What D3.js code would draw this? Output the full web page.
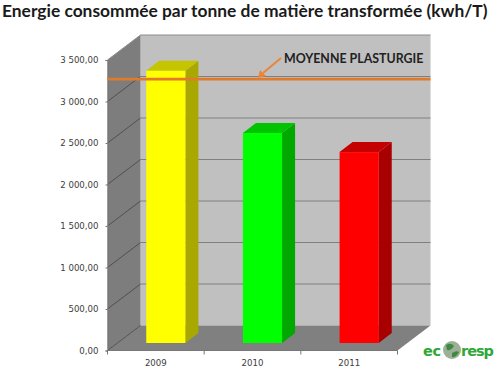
<!DOCTYPE html>
<html>
<head>
	<meta charset="utf-8">
	<title>Energie consommée</title>
	<script src="https://cdn.jsdelivr.net/npm/d3@7"></script>
</head>
<body style="margin:0;background-color:#fff;">
<script type="text/javascript">
	var years = ["2009", "2010", "2011"];
	var energy = [3280, 2530, 2300];
	var barColors = ["#ffff00", "#00ff00", "#ff0000"];
	var sideColors = ["#a8a800", "#00a800", "#a80000"];
	var topColors = ["#c4c400", "#00c400", "#c40000"];
	var yTicks = [0, 500, 1000, 1500, 2000, 2500, 3000, 3500];
	var tickLabels = ["0,00", "500,00", "1 000,00", "1 500,00", "2 000,00", "2 500,00", "3 000,00", "3 500,00"];
	var moyenne = [3270];

	var width = 500, height = 373;
	var svg = d3.select("body").append("svg").attr("width", width).attr("height", height).style("display", "block");

	var x = d3.scaleBand().domain(years).range([107.5, 397.5]);
	var y = d3.scaleLinear().domain([0, 3500]).range([350.5, 60]);

	// depth of the 3d box and of the bars
	var depthX = 33, depthY = -25;
	var barOffX = 10, barOffY = -7.5, barDepthX = 13, barDepthY = -10;
	var barW = x.bandwidth() * 0.405;

	function poly(points, fill) {
		return svg.append("polygon").attr("points", points.map(function(p){return p.join(",")}).join(" ")).attr("fill", fill);
	}

	var x0 = x.range()[0], x1 = x.range()[1];
	var yb = y(0), yt = y(3500);

	// back wall, side wall, floor
	poly([[x0+depthX, yt+depthY], [x1+depthX, yt+depthY], [x1+depthX, yb+depthY], [x0+depthX, yb+depthY]], "#c0c0c0");
	poly([[x0, yt], [x0+depthX, yt+depthY], [x0+depthX, yb+depthY], [x0, yb]], "#7d7d7d");
	poly([[x0, yb], [x0+depthX, yb+depthY], [x1+depthX, yb+depthY], [x1, yb]], "#808080");
	svg.append("path").attr("d", "M"+x0+","+yt+"L"+(x0+depthX)+","+(yt+depthY)+"L"+(x1+depthX)+","+(yt+depthY))
		.attr("fill", "none").attr("stroke", "#8c8c8c").attr("stroke-width", 1);

	// grid lines, side wall part then back wall part
	svg.append("g").selectAll("line").data(yTicks.slice(0, -1))
		.enter().append("line")
		.attr("x1", x0).attr("y1", function(d){return y(d)})
		.attr("x2", x0+depthX).attr("y2", function(d){return y(d)+depthY})
		.attr("stroke", "#505050").attr("stroke-width", 1);
	svg.append("g").selectAll("line").data(yTicks.slice(1, -1))
		.enter().append("line")
		.attr("x1", x0+depthX).attr("y1", function(d){return y(d)+depthY})
		.attr("x2", x1+depthX).attr("y2", function(d){return y(d)+depthY})
		.attr("stroke", "#808080").attr("stroke-width", 1);

	// axes, the tick labels are the french ones
	var yAxis = d3.axisLeft(y).tickValues(yTicks).tickSize(2).tickPadding(7).tickFormat(function(d,i){return tickLabels[i]});
	var yG = svg.append("g").attr("transform", "translate("+x0+",0)").call(yAxis);
	var xAxis = d3.axisBottom(x).tickSize(0).tickPadding(9);
	var xG = svg.append("g").attr("transform", "translate(0,"+yb+")").call(xAxis);
	xG.selectAll("path.domain").remove();
	xG.selectAll(".tk").data(d3.range(4)).enter().append("line").attr("class", "tk")
		.attr("x1", function(d){return x0 + d*x.step()}).attr("x2", function(d){return x0 + d*x.step()})
		.attr("y1", 0).attr("y2", 4).attr("stroke", "#777");
	xG.append("line").attr("x1", x0).attr("x2", x1).attr("stroke", "#777");
	yG.select("path.domain").attr("stroke", "#777");
	yG.selectAll("line").attr("stroke", "#777");
	[yG, xG].forEach(function(g){
		g.selectAll("text").attr("font-family", "DejaVu Sans, sans-serif").attr("font-size", 8.6).attr("fill", "#3c3c3c");
	});

	// bars, each with front, side and top faces
	var bars = svg.append("g").selectAll("g").data(years).enter().append("g");
	function barLeft(d){return x(d) + (x.bandwidth()-barW)/2 + barOffX}
	bars.append("polygon").attr("fill", function(d,i){return sideColors[i]})
		.attr("points", function(d,i){
			var l = barLeft(d)+barW, t = y(energy[i])+barOffY, b = yb+barOffY;
			return [[l,t],[l+barDepthX,t+barDepthY],[l+barDepthX,b+barDepthY],[l,b]].join(" ");
		});
	bars.append("polygon").attr("fill", function(d,i){return topColors[i]})
		.attr("points", function(d,i){
			var l = barLeft(d), t = y(energy[i])+barOffY;
			return [[l,t],[l+barDepthX,t+barDepthY],[l+barW+barDepthX,t+barDepthY],[l+barW,t]].join(" ");
		});
	bars.append("rect").attr("fill", function(d,i){return barColors[i]})
		.attr("x", barLeft).attr("width", barW)
		.attr("y", function(d,i){return y(energy[i])+barOffY})
		.attr("height", function(d,i){return yb-y(energy[i])});

	// average line and its note
	svg.append("line").attr("x1", x0).attr("x2", x1+depthX).attr("y1", y(moyenne[0])).attr("y2", y(moyenne[0]))
		.attr("stroke", "#e07b2c").attr("stroke-width", 2.6);
	svg.append("line").attr("x1", 281).attr("y1", 58).attr("x2", 263).attr("y2", 73)
		.attr("stroke", "#e8853a").attr("stroke-width", 2);
	svg.append("polygon").attr("points", "258,78 260,70 266,76").attr("fill", "#e8853a");
	svg.append("text").attr("x", 284).attr("y", 63).attr("font-family", "Lato").attr("font-weight", 700)
		.attr("font-size", 12.4).attr("fill", "#222").text("MOYENNE PLASTURGIE");

	svg.append("text").attr("x", 2).attr("y", 17).attr("font-family", "Lato").attr("font-weight", 700)
		.attr("font-size", 17.4).attr("fill", "#1a1a1a").text("Energie consommée par tonne de matière transformée (kwh/T)");

	// logo
	var logo = svg.append("g").attr("font-family", "DejaVu Sans").attr("font-weight", 700).attr("font-size", 14.5).attr("fill", "#2fa838");
	logo.append("text").attr("x", 423).attr("y", 356).attr("textLength", 18).text("ec");
	logo.append("text").attr("x", 461).attr("y", 356).attr("textLength", 33).text("resp");
	svg.append("circle").attr("cx", 452).attr("cy", 350).attr("r", 9).attr("fill", "#9db097");
	svg.append("path").attr("d", "M446,345 Q451,342 454,346 Q451,351 447,350Z M452,353 Q457,350 459,352 Q456,358 452,357Z").attr("fill", "#3d8a42");
</script>
</body>
</html>
